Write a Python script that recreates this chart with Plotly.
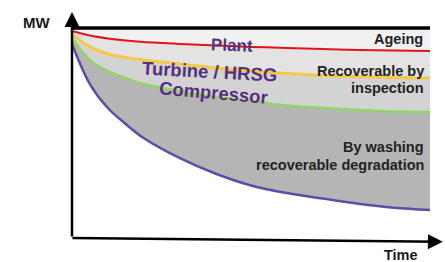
import plotly.graph_objects as go

# ---- data (time in arbitrary units, output in % of design MW) ----
time = [0, 0.5, 1, 1.5, 2, 3, 4, 5, 6, 7, 8, 9, 10]
plant = [98.6, 96.4, 95.0, 94.0, 93.3, 92.4, 91.7, 91.0, 90.5, 90.0, 89.5, 89.3, 89.0]
turbine_hrsg = [97.1, 91.0, 87.6, 86.0, 84.8, 82.9, 81.0, 79.5, 78.3, 77.4, 76.9, 76.4, 76.2]
compressor = [95.2, 84.8, 79.5, 76.2, 73.3, 70.0, 67.1, 65.2, 63.1, 61.9, 61.0, 60.2, 60.0]
washing = [92.4, 73.3, 61.9, 54.3, 47.6, 38.1, 30.7, 25.0, 21.4, 18.8, 16.3, 14.4, 13.3]
design = [100] * len(time)

FONT = "Liberation Sans, Arial, sans-serif"
PURPLE_TXT = "#55307f"

fig = go.Figure()

# fills (bottom to top)
fig.add_trace(go.Scatter(x=time, y=washing, mode="lines", line=dict(width=0, shape="spline"), hoverinfo="skip"))
fig.add_trace(go.Scatter(x=time, y=compressor, mode="lines", line=dict(width=0, shape="spline"),
                         fill="tonexty", fillcolor="#b5b5b5", hoverinfo="skip"))
fig.add_trace(go.Scatter(x=time, y=turbine_hrsg, mode="lines", line=dict(width=0, shape="spline"),
                         fill="tonexty", fillcolor="#d3d3d3", hoverinfo="skip"))
fig.add_trace(go.Scatter(x=time, y=plant, mode="lines", line=dict(width=0, shape="spline"),
                         fill="tonexty", fillcolor="#e3e3e3", hoverinfo="skip"))
fig.add_trace(go.Scatter(x=time, y=design, mode="lines", line=dict(width=0),
                         fill="tonexty", fillcolor="#f1f1f1", hoverinfo="skip"))

# lines
fig.add_trace(go.Scatter(x=time, y=washing, mode="lines", line=dict(color="#5a4fa6", width=2.5, shape="spline")))
fig.add_trace(go.Scatter(x=time, y=compressor, mode="lines", line=dict(color="#93d466", width=2.5, shape="spline")))
fig.add_trace(go.Scatter(x=time, y=turbine_hrsg, mode="lines", line=dict(color="#f7c843", width=3, shape="spline")))
fig.add_trace(go.Scatter(x=time, y=plant, mode="lines", line=dict(color="#e0141c", width=2, shape="spline")))
fig.add_trace(go.Scatter(x=time, y=design, mode="lines", line=dict(color="#000000", width=3.5)))

ann = []
# axes arrows
ann.append(dict(x=0, y=107.6, ax=0, ay=0, xref="x", yref="y", axref="x", ayref="y",
                showarrow=True, arrowhead=2, arrowsize=1.2, arrowwidth=2.5, arrowcolor="#000",
                standoff=0, startstandoff=0, text=""))
ann.append(dict(x=10.36, y=-1.8, ax=-0.03, ay=0, xref="x", yref="y", axref="x", ayref="y",
                showarrow=True, arrowhead=2, arrowsize=1.2, arrowwidth=2.5, arrowcolor="#000",
                standoff=0, startstandoff=0, text=""))

def label(text, x, y, size, color, xanchor="center", angle=0, borderpad=1):
    ann.append(dict(x=x, y=y, xref="x", yref="y", text="<b>%s</b>" % text, showarrow=False,
                    xanchor=xanchor, yanchor="middle", textangle=angle, borderpad=borderpad,
                    font=dict(family=FONT, size=size, color=color)))

label("MW", -0.98, 102.4, 15, "#1a1a1a")
label("Time", 9.19, -7.9, 14.5, "#1a1a1a", borderpad=0)
label("Plant", 4.47, 91.6, 17, PURPLE_TXT, angle=2)
label("Turbine / HRSG", 3.83, 79.5, 18.5, PURPLE_TXT, angle=3)
label("Compressor", 3.94, 69.3, 18.5, PURPLE_TXT, angle=5)
label("Ageing", 9.85, 94.8, 14.5, "#222222", xanchor="right")
label("Recoverable by", 9.9, 79.3, 14.5, "#222222", xanchor="right")
label("inspection", 9.9, 71.2, 14.5, "#222222", xanchor="right")
label("By washing", 9.9, 43.3, 14.5, "#222222", xanchor="right")
label("recoverable degradation", 9.9, 34.8, 14.5, "#222222", xanchor="right")

fig.update_layout(
    width=445, height=262,
    margin=dict(l=0, r=0, t=0, b=0),
    paper_bgcolor="white", plot_bgcolor="white",
    showlegend=False,
    xaxis=dict(range=[-2.011, 10.419], visible=False, fixedrange=True),
    yaxis=dict(range=[-11.43, 113.33], visible=False, fixedrange=True),
    annotations=ann,
)

fig.write_html("out.html", config={"displayModeBar": False},
               post_script="document.body.style.margin='0';document.body.style.overflow='hidden';")
